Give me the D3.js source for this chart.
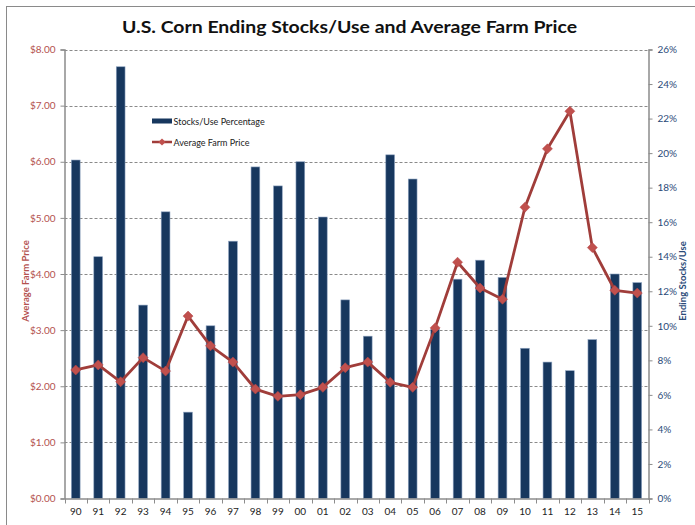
<!DOCTYPE html>
<html>
<head>
<meta charset="utf-8">
<script src="https://cdn.jsdelivr.net/npm/d3@7"></script>
<style>
  html, body { margin: 0; padding: 0; background: #fff; }
  svg { display: block; font-family: Lato, "Open Sans", sans-serif; }
</style>
</head>
<body>
<svg id="chart" width="695" height="525"></svg>
<script>
const years = ["90","91","92","93","94","95","96","97","98","99","00","01","02","03","04","05","06","07","08","09","10","11","12","13","14","15"];
const stocksUse = [19.6, 14.0, 25.0, 11.2, 16.6, 5.0, 10.0, 14.9, 19.2, 18.1, 19.5, 16.3, 11.5, 9.4, 19.9, 18.5, 9.8, 12.7, 13.8, 12.8, 8.7, 7.9, 7.4, 9.2, 13.0, 12.5];
const farmPrice = [2.29, 2.38, 2.08, 2.51, 2.27, 3.25, 2.72, 2.43, 1.95, 1.82, 1.85, 1.98, 2.33, 2.43, 2.07, 1.98, 3.04, 4.21, 3.75, 3.55, 5.19, 6.23, 6.90, 4.47, 3.71, 3.66];
const priceTicks = [0, 1, 2, 3, 4, 5, 6, 7, 8];
const pctTicks = [0, 2, 4, 6, 8, 10, 12, 14, 16, 18, 20, 22, 24, 26];

const title = "U.S. Corn Ending Stocks/Use and Average Farm Price";
const legendLabels = ["Stocks/Use Percentage", "Average Farm Price"];

const svg = d3.select("#chart");
const pLeft = 64.5, pRight = 648.5, pTop = 49.5, pBottom = 498.5;

const barColor = "#17375e";
const lineColor = "#a03d3a";
const markColor = "#c0504d";
const priceLabelColor = "#b4524f";
const pctLabelColor = "#2a4a78";
const axisColor = "#8c8c8c";

// outer frame
svg.append("rect").attr("x", 6.5).attr("y", 6.5).attr("width", 720).attr("height", 540)
  .attr("fill", "none").attr("stroke", "#8a8a8a").attr("stroke-width", 1);

const x = d3.scaleBand().domain(years).range([pLeft, pRight]).padding(0);
const yL = d3.scaleLinear().domain([0, 8]).range([pBottom, pTop]);
const yR = d3.scaleLinear().domain([0, 26]).range([pBottom, pTop]);
const barW = x.bandwidth() * 0.39;
const cx = d => x(d) + x.bandwidth() / 2;

// title
svg.append("text").attr("x", 349.5).attr("y", 33).attr("text-anchor", "middle")
  .attr("font-size", 17).attr("font-weight", "bold").attr("fill", "#111")
  .attr("textLength", 455).attr("lengthAdjust", "spacingAndGlyphs")
  .text(title);

// gridlines
svg.append("g").selectAll("line").data(priceTicks.filter(d => d > 0)).join("line")
  .attr("x1", pLeft).attr("x2", pRight)
  .attr("y1", d => Math.round(yL(d)) + 0.5).attr("y2", d => Math.round(yL(d)) + 0.5)
  .attr("stroke", "#8a8a8a").attr("stroke-width", 1).attr("stroke-dasharray", "3,2");

// bars
svg.append("g").selectAll("rect").data(years).join("rect")
  .attr("x", d => cx(d) - barW / 2)
  .attr("y", (d, i) => yR(stocksUse[i]))
  .attr("width", barW)
  .attr("height", (d, i) => yR(0) - yR(stocksUse[i]))
  .attr("fill", barColor).attr("stroke", "#8ea3c0").attr("stroke-width", 0.6);

// left axis
const gL = svg.append("g").attr("transform", `translate(${pLeft},0)`)
  .call(d3.axisLeft(yL).tickValues(priceTicks).tickFormat(d => "$" + d.toFixed(2)).tickSize(4).tickPadding(5));
gL.select(".domain").attr("stroke", axisColor).attr("stroke-width", 1.5);
gL.selectAll(".tick line").attr("stroke", axisColor);
gL.selectAll(".tick text").attr("fill", priceLabelColor).attr("font-size", 10).attr("font-family", "Lato, sans-serif");

// right axis
const gR = svg.append("g").attr("transform", `translate(${pRight},0)`)
  .call(d3.axisRight(yR).tickValues(pctTicks).tickFormat(d => d + "%").tickSize(4).tickPadding(5));
gR.select(".domain").attr("stroke", axisColor).attr("stroke-width", 1.5);
gR.selectAll(".tick line").attr("stroke", axisColor);
gR.selectAll(".tick text").attr("fill", pctLabelColor).attr("font-size", 10).attr("font-family", "Lato, sans-serif");

// bottom axis
const gB = svg.append("g").attr("transform", `translate(0,${pBottom})`)
  .call(d3.axisBottom(x).tickSize(0).tickPadding(9));
gB.select(".domain").attr("stroke", axisColor).attr("stroke-width", 1.5);
gB.selectAll(".tick text").attr("fill", "#222").attr("font-size", 10).attr("font-family", "Lato, sans-serif");
svg.append("g").selectAll("line").data(years.concat(["end"])).join("line")
  .attr("x1", (d, i) => Math.round(i < years.length ? x(d) : pRight) + 0.5)
  .attr("x2", (d, i) => Math.round(i < years.length ? x(d) : pRight) + 0.5)
  .attr("y1", pBottom).attr("y2", pBottom + 5)
  .attr("stroke", axisColor);

// line
const line = d3.line().x((d, i) => cx(years[i])).y(d => yL(d));
svg.append("path").datum(farmPrice).attr("d", line)
  .attr("fill", "none").attr("stroke", lineColor).attr("stroke-width", 2.8).attr("stroke-linejoin", "round");

const diamond = d3.symbol().type(d3.symbolSquare).size(50);
svg.append("g").selectAll("path").data(farmPrice).join("path")
  .attr("d", diamond)
  .attr("transform", (d, i) => `translate(${cx(years[i])},${yL(d)}) rotate(45)`)
  .attr("fill", markColor).attr("stroke", "#b5474a").attr("stroke-width", 0.5);

// axis titles
svg.append("text").attr("transform", `translate(29,${(pTop + pBottom) / 2 + 7}) rotate(-90)`)
  .attr("text-anchor", "middle").attr("font-size", 9.5).attr("font-weight", "bold")
  .attr("fill", priceLabelColor).text("Average Farm Price");
svg.append("text").attr("transform", `translate(686,${(pTop + pBottom) / 2 + 7}) rotate(-90)`)
  .attr("text-anchor", "middle").attr("font-size", 9.5).attr("font-weight", "bold")
  .attr("fill", pctLabelColor).text("Ending Stocks/Use");

// legend
const lg = svg.append("g").attr("transform", "translate(152,0)");
lg.append("rect").attr("x", 0).attr("y", 118.5).attr("width", 20).attr("height", 5).attr("fill", barColor);
lg.append("text").attr("x", 21.5).attr("y", 124.5).attr("font-size", 9).attr("fill", "#222").text(legendLabels[0]);
lg.append("line").attr("x1", 0).attr("x2", 20).attr("y1", 142).attr("y2", 142)
  .attr("stroke", lineColor).attr("stroke-width", 2.5);
lg.append("path").attr("d", d3.symbol().type(d3.symbolSquare).size(26))
  .attr("transform", "translate(10,142) rotate(45)").attr("fill", markColor);
lg.append("text").attr("x", 21.5).attr("y", 145.5).attr("font-size", 9).attr("fill", "#222").text(legendLabels[1]);
</script>
</body>
</html>
